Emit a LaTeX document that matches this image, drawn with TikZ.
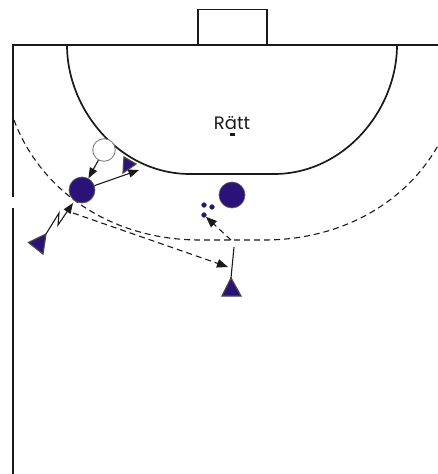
\documentclass[tikz,border=0pt]{standalone}
\usepackage{fontspec}
\setmainfont{Poppins}
\usetikzlibrary{arrows.meta}
\definecolor{player}{HTML}{2B1278}
\definecolor{ink}{HTML}{1A1A1A}
\tikzset{
  courtline/.style={draw=ink,line width=1.7pt},
  freethrow/.style={draw=ink,line width=1.1pt,dash pattern=on 6pt off 4pt},
  playerdot/.style={circle,draw=ink!70,line width=0.7pt,fill=player,minimum size=26pt,inner sep=0pt},
  balldot/.style={circle,draw=ink!60,line width=0.8pt,fill=white,minimum size=22.5pt,inner sep=0pt},
  smalldot/.style={circle,fill=player,draw=ink!70,line width=0.3pt,minimum size=5pt,inner sep=0pt},
  playertri/.style={draw=ink!80,line width=1.2pt,fill=player,line join=miter},
  move/.style={draw=ink,line width=1.1pt,-{Triangle[length=10.5pt,width=8pt]}},
  run/.style={draw=ink,line width=1.1pt,dash pattern=on 6pt off 4pt,-{Triangle[length=11pt,width=8.5pt]}},
  plain/.style={draw=ink,line width=1.1pt}
}
\begin{document}
\begin{tikzpicture}[x=1pt,y=-1pt]
\useasboundingbox (0,0) rectangle (438,474);
\begin{scope}
\clip (0,0) rectangle (438,474);
% court
\draw[courtline] (13,197) -- (13,45) -- (438,45);
\draw[courtline] (13,208) -- (13,474);
\draw[courtline] (198,45) -- (198,9.5) -- (267,9.5) -- (267,45);
\draw[courtline] (67,45) .. controls (67,110) and (120,174) .. (190,174) -- (274,174)
  .. controls (344,174) and (397,110) .. (397,45);
% free-throw line
\draw[freethrow] (14,120) .. controls (40,190) and (110,240) .. (200,240) -- (264,240)
  .. controls (354,240) and (424,190) .. (450,120);
\end{scope}
% label
\node[font=\fontsize{18pt}{20pt}\selectfont,text=ink,inner sep=0pt] (lab) at (232,123) {Rätt};
\node[fill=ink,minimum width=5pt,minimum height=3.5pt,inner sep=0pt] (mark) at (232,134.5) {};
% players and ball
\node[balldot] (ball) at (104,150) {};
\node[playerdot] (a) at (82,190) {};
\node[playerdot] (b) at (232,195) {};
\coordinate (t1tip) at (46,234);
\coordinate (t2tip) at (139,170);
\coordinate (t3tip) at (231,278);
\draw[playertri] (28.5,242.5) -- (46,234) -- (43,254) -- cycle;
\draw[playertri] (124,157) -- (136,164) -- (123,173) -- cycle;
\draw[playertri] (231,278) -- (241,296) -- (222,296) -- cycle;
\node[smalldot] (d1) at (204,205) {};
\node[smalldot] (d2) at (212,207) {};
\node[smalldot] (d3) at (204,215) {};
% connectors
\draw[move] (ball) -- (a);
\draw[move] (a) -- (t2tip);
\coordinate (z1) at (59,213);
\coordinate (z2) at (58,225);
\coordinate (z3) at (73,203);
\draw[move] (t1tip) -- (z1) -- (z2) -- (z3);
\coordinate (r1) at (73,213);
\coordinate (r2) at (228,267);
\draw[run] (r1) -- (r2);
\coordinate (s1) at (234,247);
\draw[plain] (t3tip) -- (s1);
\coordinate (u1) at (231,240);
\draw[run] (u1) -- (d3);
\end{tikzpicture}
\end{document}
